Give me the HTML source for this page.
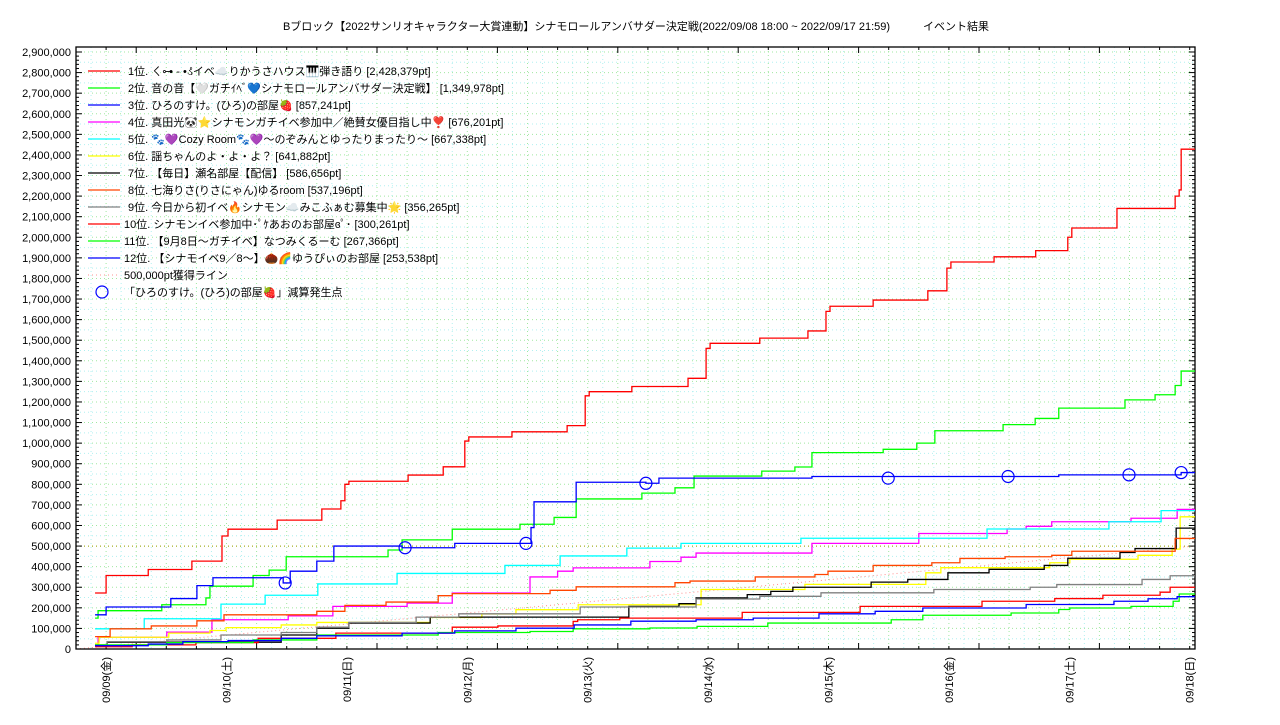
<!DOCTYPE html>
<html><head><meta charset="utf-8">
<style>
html,body{margin:0;padding:0;background:#fff;}
svg text{font-family:"Liberation Sans","Noto Sans CJK JP",sans-serif;font-size:11px;fill:#000;}
</style></head>
<body>
<svg id="chart" width="1280" height="720" viewBox="0 0 1280 720" xmlns="http://www.w3.org/2000/svg">
<text x="636" y="30" text-anchor="middle">Bブロック【2022サンリオキャラクター大賞連動】シナモロールアンバサダー決定戦(2022/09/08 18:00 ~ 2022/09/17 21:59)　　　イベント結果</text>
<g id="grid"></g>
<g id="axes"></g>
<g id="series"></g>
<g id="legend"></g>
</svg>
<script>
// hours since 2022/09/08 18:00, values in thousands of pt
const dayLabels = ["09/09(金)","09/10(土)","09/11(日)","09/12(月)","09/13(火)","09/14(水)","09/15(木)","09/16(金)","09/17(土)","09/18(日)"];
const yTickValues = [0,100,200,300,400,500,600,700,800,900,1000,1100,1200,1300,1400,1500,1600,1700,1800,1900,2000,2100,2200,2300,2400,2500,2600,2700,2800,2900];
const seriesNames = ["1位. ㄑ⊶ - •ડ̊イベ☁️りかうさハウス🎹弾き語り [2,428,379pt]","2位. 音の音【🤍ガチｲﾍﾞ💙シナモロールアンバサダー決定戦】 [1,349,978pt]","3位. ひろのすけ。(ひろ)の部屋🍓 [857,241pt]","4位. 真田光🐼⭐シナモンガチイベ参加中／絶賛女優目指し中❣️ [676,201pt]","5位. 🐾💜Cozy Room🐾💜〜のぞみんとゆったりまったり〜 [667,338pt]","6位. 謡ちゃんのよ・よ・よ？ [641,882pt]","7位. 【毎日】瀬名部屋【配信】 [586,656pt]","8位. 七海りさ(りさにゃん)ゆるroom [537,196pt]","9位. 今日から初イベ🔥シナモン☁️みこふぁむ募集中🌟 [356,265pt]","10位. シナモンイベ参加中･ﾟｹあおのお部屋ɞﾟ･ [300,261pt]","11位. 【9月8日〜ガチイベ】なつみくるーむ [267,366pt]","12位. 【シナモイベ9／8〜】🌰🌈ゆうぴぃのお部屋 [253,538pt]"];
const s1 = [[3.8,272],[6,357],[14.4,386],[23.1,427],[29.1,549],[30.3,582],[40.1,626],[49,680],[52.8,720],[53.6,800],[54.4,815],[66.2,845],[73.2,885],[77.5,1010],[78.3,1030],[86.9,1055],[97.9,1085],[101.5,1230],[102.3,1250],[110.8,1275],[122,1315],[125.6,1460],[126.4,1485],[136.3,1510],[145.9,1545],[149.5,1640],[150.3,1665],[158.9,1695],[169.8,1740],[173.6,1850],[174.4,1880],[183,1905],[191.3,1935],[197.7,2000],[198.5,2045],[207.5,2140],[219.1,2200],[219.9,2230],[220.3,2428]];
const s2 = [[3.8,150],[4.4,186],[17.1,215],[25.9,248],[26.7,305],[35.3,357],[38.5,383],[41.9,448],[62.2,481],[65,530],[75,582],[88.5,606],[95.3,639],[99.7,729],[112.8,757],[119.4,783],[123.2,840],[136.7,864],[143.3,884],[146.7,954],[160.9,970],[167.6,1000],[171.2,1060],[184.8,1090],[191.2,1120],[195.9,1170],[209.1,1210],[215.1,1235],[219.1,1280],[220.3,1350]];
const s3 = [[3.8,166],[6,204],[18.9,245],[24.1,308],[27.3,346],[41.3,321],[42.7,378],[48,427],[51.4,500],[65,492],[75.5,513],[90.7,590],[91.3,715],[99.7,810],[113.6,805],[116.2,830],[146.7,838],[195.9,846],[220.3,857]];
const s4 = [[3.8,20],[4.4,57],[18.1,82],[27.1,142],[42.3,161],[51.2,207],[66,223],[75,272],[90.5,350],[96,378],[99.1,394],[114.4,425],[120.6,446],[123.6,466],[146.7,513],[168,561],[185.6,583],[189.4,596],[194.5,618],[210.3,635],[219.5,678]];
const s5 = [[3.8,98],[13.6,147],[28.9,218],[37.7,261],[48.2,316],[64,367],[85.5,406],[96.5,452],[109.8,490],[120.6,513],[144.5,538],[181.6,583],[205.9,618],[216.3,672]];
const s6 = [[3.8,28],[4.6,57],[18.5,77],[26.7,90],[29.9,104],[40.9,117],[48,129],[70.6,153],[80.9,170],[87.7,191],[100.1,215],[124.6,289],[145.3,314],[169.4,370],[172.4,395],[194.1,419],[198.1,436],[211.7,455],[218.5,485],[220.1,642]];
const s7 = [[3.8,16],[6.2,33],[40.9,68],[48,101],[54.4,126],[70.6,155],[110.2,207],[120.2,220],[123.6,248],[133.8,264],[138.5,280],[142.9,300],[158.5,325],[165.8,338],[173.8,370],[182,387],[193,406],[197.7,441],[208.1,469],[211.1,488],[219.3,587]];
const s8 = [[3.8,60],[6.8,98],[15,112],[24.1,137],[29.5,166],[48,183],[53.6,212],[61.8,228],[72.2,259],[75,269],[94.5,285],[99.7,302],[119.4,322],[122.4,330],[135.4,350],[147.3,362],[149.9,378],[158.9,406],[170.6,419],[176.2,440],[185.2,448],[194.5,455],[198.5,475],[219.1,537]];
const s9 = [[3.8,20],[6.2,36],[18.1,44],[28.9,68],[40.9,80],[48,106],[54.4,129],[67.8,155],[76.3,171],[100.5,204],[123.6,243],[136.3,256],[148.5,273],[171,289],[190.2,300],[195.5,313],[212.5,338],[218.1,356]];
const s10 = [[3.8,11],[11.2,20],[23.9,31],[36.3,52],[51.8,77],[75,106],[84.1,112],[99.1,134],[100,142],[108.4,150],[132.8,178],[156.3,207],[180.6,232],[195.1,245],[204.7,261],[216.1,276],[218.1,300]];
const s11 = [[3.8,20],[18.1,31],[35.3,44],[48,68],[72.2,80],[90.5,85],[99.1,98],[114.4,102],[123.8,110],[137.9,126],[162.5,142],[168.8,164],[186.4,175],[195.9,192],[198.1,199],[210.3,207],[218.7,232],[219.9,267]];
const s12 = [[3.8,16],[14.4,24],[21.3,36],[30.3,41],[40.9,52],[48,64],[65,77],[75.5,88],[87.7,101],[99.3,117],[110.6,135],[123.6,142],[135,150],[148.1,171],[159.3,183],[168.8,199],[189.4,216],[206.9,232],[213.7,244],[219.5,254]];
const dropHours = [41.7,65.6,89.7,113.6,161.9,185.8,209.9,220.3];
const dropValues = [321,492,513,805,830,838,846,857];
const targetValue = 500;

const allSeries=[s1,s2,s3,s4,s5,s6,s7,s8,s9,s10,s11,s12];
const colors=["#ff0000","#00ff00","#0000ff","#ff00ff","#00ffff","#ffff00","#000000","#ff4500","#808080","#ff0000","#00ff00","#0000ff"];
const L=76,R=1195,T=47,B=649,HMAX=(R-L)/(120.4/24);
const X=h=>L+h*(120.4/24);
const Y=v=>B-v*(B-52)/2900;
const NS="http://www.w3.org/2000/svg";
function mk(tag,attrs,parent){const e=document.createElementNS(NS,tag);for(const k in attrs)e.setAttribute(k,attrs[k]);parent.appendChild(e);return e;}
const grid=document.getElementById('grid'),axes=document.getElementById('axes'),ser=document.getElementById('series'),leg=document.getElementById('legend');

// grid
for(let v=50;v<=2900;v+=50){const g=mk('line',{x1:L,x2:R,y1:Y(v),y2:Y(v),stroke:v%100?'#b0f0f0':'#a0e8a0','stroke-width':1,'stroke-dasharray':'1,3'},grid);

}
for(let h=3;h<HMAX;h+=3){const g=mk('line',{x1:X(h),x2:X(h),y1:T,y2:B,stroke:h%6?'#b0f0f0':'#a0e8a0','stroke-width':1,'stroke-dasharray':'1,3'},grid);

}

// target lines
const t1=mk('line',{x1:L,x2:R,y1:Y(targetValue),y2:Y(targetValue),stroke:'#a0a000','stroke-width':1,'stroke-dasharray':'1,3'},grid);


const t2=mk('line',{x1:L,x2:R,y1:Y(0),y2:Y(targetValue),stroke:'#ff9090','stroke-width':1,'stroke-dasharray':'1,3'},grid);



// axes frame
const fr=mk('rect',{x:L,y:T,width:R-L,height:B-T,fill:'none',stroke:'#000','stroke-width':1.3},axes);


for(let v=0;v<=2900;v+=20){const len=v%100?3:6;
mk('line',{x1:L,x2:L+len,y1:Y(v),y2:Y(v),stroke:'#000'},axes);
mk('line',{x1:R,x2:R-len,y1:Y(v),y2:Y(v),stroke:'#000'},axes);}
yTickValues.forEach(v=>{const t=mk('text',{x:L-5,y:Y(v)+4,'text-anchor':'end'},axes);t.textContent=(v*1000).toLocaleString('en-US');

});
for(let h=6;h<HMAX;h+=6){const len=(h%24===12)?6:3;
mk('line',{x1:X(h),x2:X(h),y1:B,y2:B-len,stroke:'#000'},axes);
mk('line',{x1:X(h),x2:X(h),y1:T,y2:T+len,stroke:'#000'},axes);}
dayLabels.forEach((d,i)=>{const x=X(6+24*i);const t=mk('text',{x:0,y:0,'text-anchor':'end',transform:`translate(${x+4},${B+8}) rotate(-90)`},axes);t.textContent=d;

});

// series
allSeries.forEach((s,i)=>{let d=`M${X(s[0][0])},${Y(s[0][1])}`;
for(let k=1;k<s.length;k++){d+=`H${X(s[k][0])}V${Y(s[k][1])}`;}
d+=`H${R}`;
const p=mk('path',{d,fill:'none',stroke:colors[i],'stroke-width':1.3},ser);

});
dropHours.forEach((h,i)=>{const c=mk('circle',{cx:X(h),cy:Y(dropValues[i]),r:6,fill:'none',stroke:'#0000ff','stroke-width':1.2},ser);

});

// legend
seriesNames.forEach((n,i)=>{const y=71+i*17;
const l=mk('line',{x1:88,x2:120,y1:y,y2:y,stroke:colors[i],'stroke-width':1.3},leg);


const t=mk('text',{x:i<9?128:124,y:y+4},leg);t.textContent=n;

});
const ly=71+12*17;
const pl=mk('line',{x1:88,x2:120,y1:ly,y2:ly,stroke:'#ff9090','stroke-dasharray':'1,3'},leg);


const pt=mk('text',{x:124,y:ly+4},leg);pt.textContent="500,000pt獲得ライン";


const cc=mk('circle',{cx:102,cy:ly+17,r:6,fill:'none',stroke:'#0000ff','stroke-width':1.2},leg);


const ct=mk('text',{x:124,y:ly+21},leg);ct.textContent="「ひろのすけ。(ひろ)の部屋🍓」減算発生点";


</script>
</body></html>
